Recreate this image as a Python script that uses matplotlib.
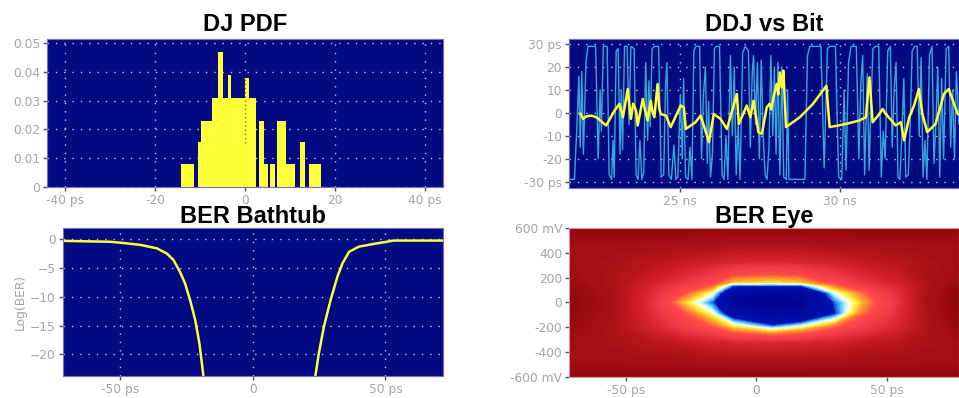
import numpy as np
import matplotlib.pyplot as plt
from matplotlib.colors import LinearSegmentedColormap

# DJ PDF histogram (ps, probability)
dj_edges = [-14.3, -11.3, -10.5, -9.8, -8.6, -7.4, -6.1, -4.9, -3.7, -3.2, -2.0,
            -0.1, 0.8, 2.5, 3.0, 4.3, 5.1, 5.6, 6.6, 7.2, 9.0, 11.2, 12.3, 13.4,
            14.2, 16.8]
dj_heights = [0.008, 0, 0.0155, 0.023, 0.023, 0.031, 0.047, 0.031, 0.039, 0.031,
              0.031, 0.038, 0.031, 0, 0.023, 0.008, 0, 0.008, 0, 0.023, 0.008,
              0, 0.0155, 0, 0.008]

# DDJ vs bit: signal waveform (ns, ps)
wave = [(21.55, -29), (21.72, -29), (21.80, -5), (21.86, 16), (21.90, -15), (21.95, 18),
        (22.00, -18), (22.08, 22), (22.14, 29), (22.38, 29), (22.46, -20), (22.52, 10),
        (22.56, -8), (22.62, 29), (22.74, 29), (22.80, -27), (22.88, -29), (22.92, -12),
        (22.96, -28), (23.02, 27), (23.08, 28), (23.14, -18), (23.18, 10), (23.22, -16),
        (23.28, 29), (23.36, 29), (23.42, -5), (23.48, 29), (23.58, 28), (23.64, -27),
        (23.70, -29), (23.76, -12), (23.82, -29), (23.88, -26), (23.94, 22), (24.00, -12),
        (24.04, 14), (24.08, -6), (24.14, 28), (24.22, 29), (24.34, 29), (24.38, 5),
        (24.42, -28), (24.50, -27), (24.56, 12), (24.60, 22), (24.66, -27), (24.74, -29),
        (24.82, -14), (24.88, -29), (24.94, -28), (25.02, 8), (25.08, -20), (25.12, 15),
        (25.18, -28), (25.26, -29), (25.32, -15), (25.38, -29), (25.44, 27), (25.50, 29),
        (25.62, 29), (25.68, -20), (25.74, 8), (25.80, 20), (25.86, -22), (25.90, 5),
        (25.96, -28), (26.02, -18), (26.08, 28), (26.14, 29), (26.24, 29), (26.32, -27),
        (26.38, -29), (26.44, -10), (26.50, -29), (26.58, 25), (26.64, -10), (26.70, 20),
        (26.76, -27), (26.82, -5), (26.88, -29), (26.96, 26), (27.04, 29), (27.14, 27),
        (27.20, -15), (27.26, 18), (27.30, 25), (27.36, -5), (27.42, 22), (27.48, -20),
        (27.54, 23), (27.60, -10), (27.66, -27), (27.72, -29), (27.78, -15), (27.84, 25),
        (27.90, -10), (27.95, 20), (28.00, -18), (28.06, 22), (28.12, -27), (28.18, 20),
        (28.24, -28), (28.32, -29), (28.36, 10), (28.40, -29), (28.90, -29), (28.98, 25),
        (29.05, 29), (29.40, 29), (29.50, -24), (29.60, 28), (29.68, 29), (29.85, 29),
        (29.95, -28), (30.05, -29), (30.12, 10), (30.18, -25), (30.26, 22), (30.34, 29),
        (30.50, 29), (30.58, -20), (30.64, 12), (30.70, 25), (30.76, -27), (30.84, 17),
        (30.90, -25), (30.96, 5), (31.02, 28), (31.10, 29), (31.20, 29), (31.28, -28),
        (31.34, -8), (31.40, -20), (31.48, 27), (31.56, 29), (31.62, -15), (31.68, 10),
        (31.74, 22), (31.80, -28), (31.86, -29), (31.92, -10), (31.98, 15), (32.04, -28),
        (32.12, -27), (32.18, -5), (32.24, 27), (32.32, 29), (32.40, 29), (32.46, -10),
        (32.52, 24), (32.58, -28), (32.64, -12), (32.70, -29), (32.78, 25), (32.86, 29),
        (32.92, -22), (32.98, -5), (33.04, 20), (33.10, -28), (33.16, 15), (33.22, -20),
        (33.30, 28), (33.38, 29), (33.44, -15), (33.50, 10), (33.56, -20), (33.62, 18),
        (33.70, -5)]

# DDJ per bit (ns, ps)
ddj = [(21.91, -0.4), (21.99, -2.6), (22.10, -1.5), (22.25, -1.2), (22.40, -1.9),
       (22.71, -5.5), (22.97, 1.0), (23.12, 3.9), (23.23, -1.9), (23.38, 10.4),
       (23.48, -2.6), (23.55, 4.0), (23.64, 1.0), (23.69, -5.5), (23.85, 6.1),
       (23.90, 2.4), (24.00, -3.3), (24.10, 5.3), (24.15, 0.5), (24.21, -1.9),
       (24.31, 12.6), (24.36, 2.0), (24.41, -0.5), (24.57, -1.2), (24.72, -6.2),
       (25.03, 3.2), (25.13, 2.4), (25.19, -7.0), (25.49, -4.1), (25.65, -1.2),
       (25.75, -5.5), (25.91, -12.7), (26.06, -0.5), (26.27, -2.6), (26.47, -7.0),
       (26.78, 8.2), (26.84, -4.8), (27.09, 3.2), (27.20, -1.9), (27.30, 5.3),
       (27.45, -8.4), (27.56, -9.1), (27.71, 2.4), (27.80, 4.0), (27.85, 1.5),
       (27.92, 6.8), (28.02, 12.6), (28.07, 8.0), (28.12, 17.6), (28.18, 11.1),
       (28.23, 18.4), (28.31, -6.2), (28.74, -1.9), (29.15, 3.9), (29.57, 11.8),
       (29.67, -6.2), (30.19, -4.8), (30.60, -3.3), (30.80, -1.9), (30.91, 15.5),
       (31.01, -4.1), (31.22, -0.5), (31.32, 1.7), (31.42, -0.5), (31.73, -5.5),
       (31.89, -4.1), (31.99, -12.0), (32.15, -1.9), (32.30, 3.2), (32.45, 10.4),
       (32.56, -0.5), (32.71, -8.4), (32.97, -4.8), (33.23, 8.2), (33.38, 10.4),
       (33.66, -0.5)]

# BER bathtub (ps, log10 BER)
left_t = [-71.6, -53.8, -49.4, -42.4, -36.1, -32.4, -29.9, -27.4, -25.5, -23.6,
          -21.7, -20.1, -18.6]
left_v = [-0.3, -0.46, -0.64, -1.0, -1.6, -2.5, -3.6, -5.7, -7.7, -10.6,
          -14.0, -18.1, -23.7]
right_t = [23.6, 24.9, 26.8, 29.3, 31.9, 33.8, 36.3, 40.0, 46.6, 50.4, 53.0, 71.8]
right_v = [-23.7, -19.8, -15.2, -10.6, -6.5, -4.2, -2.2, -1.3, -0.75, -0.46, -0.25, -0.25]

# BER eye grid (ps x mV), normalised level: 0 = open eye, 1 = closed
eye_t = [-72, -55, -40, -28, -17, -9, 6, 17, 30, 40, 55, 66, 78]
eye_v = [-600, -480, -330, -230, -190, -90, 0, 80, 137, 165, 330, 480, 600]
eye_z = [
    [0.97] * 13,
    [0.93, 0.93, 0.92, 0.92, 0.91, 0.90, 0.90, 0.90, 0.91, 0.92, 0.92, 0.93, 0.93],
    [0.93, 0.90, 0.87, 0.84, 0.81, 0.79, 0.78, 0.79, 0.81, 0.84, 0.87, 0.90, 0.93],
    [0.95, 0.90, 0.81, 0.73, 0.67, 0.60, 0.53, 0.58, 0.66, 0.73, 0.81, 0.90, 0.95],
    [0.96, 0.90, 0.79, 0.69, 0.62, 0.52, 0.40, 0.47, 0.60, 0.69, 0.79, 0.90, 0.96],
    [0.97, 0.91, 0.77, 0.64, 0.50, 0.30, 0.15, 0.20, 0.38, 0.60, 0.77, 0.91, 0.97],
    [0.98, 0.92, 0.75, 0.55, 0.40, 0.15, 0.05, 0.08, 0.40, 0.55, 0.75, 0.92, 0.98],
    [0.97, 0.91, 0.77, 0.64, 0.50, 0.25, 0.12, 0.18, 0.48, 0.60, 0.77, 0.91, 0.97],
    [0.96, 0.90, 0.79, 0.69, 0.62, 0.40, 0.40, 0.40, 0.60, 0.69, 0.79, 0.90, 0.96],
    [0.95, 0.90, 0.81, 0.73, 0.66, 0.55, 0.53, 0.55, 0.66, 0.73, 0.81, 0.90, 0.95],
    [0.93, 0.90, 0.87, 0.84, 0.81, 0.79, 0.78, 0.79, 0.81, 0.84, 0.87, 0.90, 0.93],
    [0.93, 0.93, 0.92, 0.92, 0.91, 0.90, 0.90, 0.90, 0.91, 0.92, 0.92, 0.93, 0.93],
    [0.97] * 13,
]

NAVY = '#020a82'
GRID = '#c8c8e0'
TICKC = '#a4a4a4'
YEL = '#ffff3a'

plt.rcParams['font.family'] = ['DejaVu Sans']
fig = plt.figure(figsize=(9.59, 3.98), dpi=100)


def style(ax, title, grid=True, pad=6):
    ax.set_facecolor(NAVY)
    ax.set_title(title, fontsize=17, fontweight='bold', family='Liberation Sans', pad=pad)
    ax.tick_params(direction='out', length=3, width=1, color='#505050',
                   labelcolor=TICKC, labelsize=8.8, pad=2)
    for s in ax.spines.values():
        s.set_color('#7070c0')
        s.set_linewidth(0.8)
    if grid:
        ax.grid(True, color=GRID, linestyle=(0, (1, 5)), linewidth=1)


# DJ PDF
ax1 = fig.add_axes([0.049, 0.530, 0.413, 0.372])
ax1.stairs(dj_heights, dj_edges, fill=True, color=YEL, zorder=2)
ax1.axvline(0, ymin=0.30, ymax=0.74, color='#7a7a40', linestyle=(0, (1, 2)),
            linewidth=1, zorder=3)
style(ax1, 'DJ PDF')
ax1.set_xlim(-44, 44)
ax1.set_ylim(0, 0.0514)
ax1.set_xticks([-40, -20, 0, 20, 40])
ax1.set_xticklabels(['-40 ps', '-20', '0', '20', '40 ps'])
ax1.set_yticks([0, 0.01, 0.02, 0.03, 0.04, 0.05])
ax1.set_yticklabels(['0', '0.01', '0.02', '0.03', '0.04', '0.05'])

# DDJ vs Bit
wave_t, wave_v = zip(*wave)
ddj_t, ddj_v = zip(*ddj)
ax2 = fig.add_axes([0.5933, 0.5285, 0.4067, 0.3735])
ax2.plot(wave_t, wave_v, color='#3aa4dc', linewidth=1)
ax2.plot(ddj_t, ddj_v, color=YEL, linewidth=1.8)
style(ax2, 'DDJ vs Bit')
ax2.set_xlim(21.55, 33.7)
ax2.set_ylim(-32.6, 32.2)
ax2.set_xticks([25, 30])
ax2.set_xticklabels(['25 ns', '30 ns'])
ax2.set_yticks([30, 20, 10, 0, -10, -20, -30])
ax2.set_yticklabels(['30 ps', '20', '10', '0', '-10', '-20', '-30 ps'])

# BER Bathtub
ax3 = fig.add_axes([0.0654, 0.056, 0.3969, 0.370])
ax3.plot(left_t, left_v, color=YEL, linewidth=1.8)
ax3.plot(right_t, right_v, color=YEL, linewidth=1.8)
style(ax3, 'BER Bathtub', pad=3)
ax3.set_xlim(-71.6, 71.8)
ax3.set_ylim(-23.7, 1.85)
ax3.set_xticks([-50, 0, 50])
ax3.set_xticklabels(['-50 ps', '0', '50 ps'])
ax3.set_yticks([0, -5, -10, -15, -20])
ax3.set_ylabel('Log(BER)', color=TICKC, fontsize=8.8, labelpad=2)

# BER Eye
eye_cmap = LinearSegmentedColormap.from_list('eye', [
    (0.00, '#00008a'), (0.38, '#0010b0'), (0.42, '#30a0ff'), (0.46, '#a8f4ff'),
    (0.49, '#ffffe8'), (0.53, '#ffee30'), (0.58, '#ff9a30'), (0.64, '#ff4848'),
    (0.72, '#ef3a4a'), (0.80, '#d62030'), (0.88, '#b5141c'), (0.94, '#9e0c12'),
    (1.00, '#880408')])
ax4 = fig.add_axes([0.5936, 0.0535, 0.4064, 0.3729])
ax4.contourf(eye_t, eye_v, eye_z, levels=np.linspace(0, 1, 101), cmap=eye_cmap)
style(ax4, 'BER Eye', grid=False, pad=3)
ax4.set_xlim(-71.6, 77.5)
ax4.set_ylim(-600, 600)
ax4.set_xticks([-50, 0, 50])
ax4.set_xticklabels(['-50 ps', '0', '50 ps'])
ax4.set_yticks([600, 400, 200, 0, -200, -400, -600])
ax4.set_yticklabels(['600 mV', '400', '200', '0', '-200', '-400', '-600 mV'])
for s in ax4.spines.values():
    s.set_color('#c0a0a0')

fig.savefig('out.png', dpi=100)
